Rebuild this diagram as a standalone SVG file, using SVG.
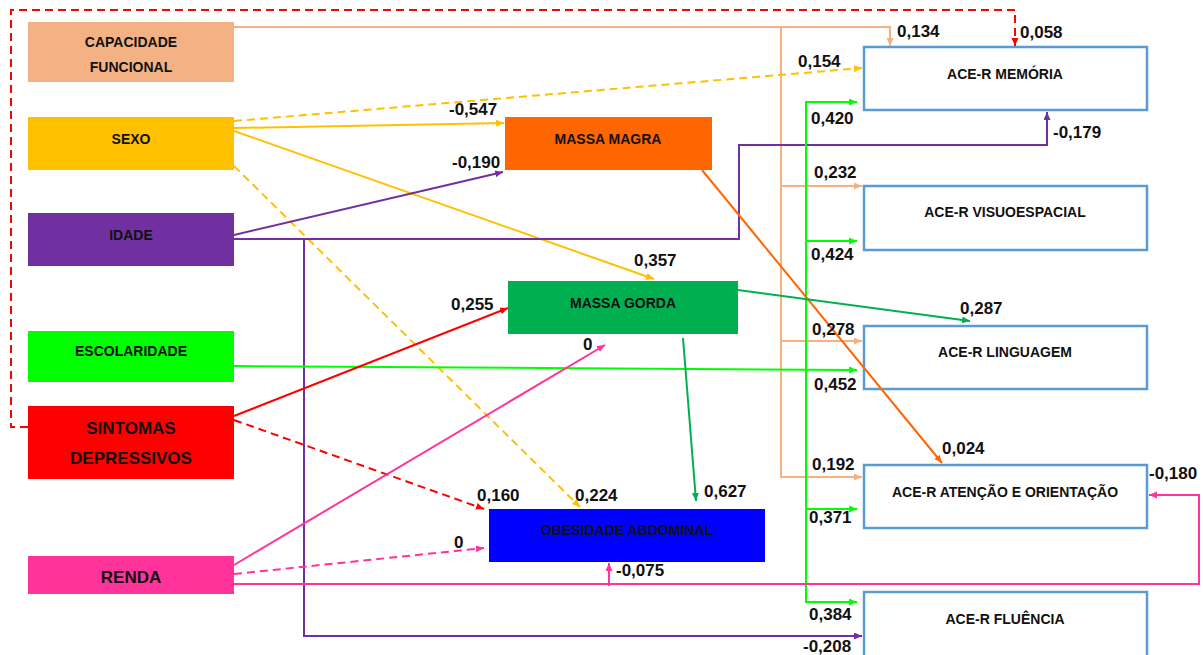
<svg xmlns="http://www.w3.org/2000/svg" width="1203" height="655" viewBox="0 0 1203 655">
<style>
.nt{font-family:"Liberation Sans",Arial,sans-serif;font-weight:bold;font-size:14px;fill:#111;text-anchor:middle}
.big{font-size:17px}
.lb{font-family:"Liberation Sans",Arial,sans-serif;font-weight:bold;font-size:17px;fill:#111}
.ace{fill:#fff;stroke:#5B9BD5;stroke-width:2.5}
.c{fill:none;stroke-width:2}
.d{stroke-dasharray:8 5}
</style>
<defs>
<marker id="mRed" markerUnits="userSpaceOnUse" markerWidth="9" markerHeight="8" refX="8" refY="3.5" orient="auto"><path d="M0,0 L8,3.5 L0,7 z" fill="#FF0000"/></marker>
<marker id="mPeach" markerUnits="userSpaceOnUse" markerWidth="9" markerHeight="8" refX="8" refY="3.5" orient="auto"><path d="M0,0 L8,3.5 L0,7 z" fill="#F4B183"/></marker>
<marker id="mYel" markerUnits="userSpaceOnUse" markerWidth="9" markerHeight="8" refX="8" refY="3.5" orient="auto"><path d="M0,0 L8,3.5 L0,7 z" fill="#FFC000"/></marker>
<marker id="mPur" markerUnits="userSpaceOnUse" markerWidth="9" markerHeight="8" refX="8" refY="3.5" orient="auto"><path d="M0,0 L8,3.5 L0,7 z" fill="#7030A0"/></marker>
<marker id="mGrn" markerUnits="userSpaceOnUse" markerWidth="9" markerHeight="8" refX="8" refY="3.5" orient="auto"><path d="M0,0 L8,3.5 L0,7 z" fill="#00FF00"/></marker>
<marker id="mDGrn" markerUnits="userSpaceOnUse" markerWidth="9" markerHeight="8" refX="8" refY="3.5" orient="auto"><path d="M0,0 L8,3.5 L0,7 z" fill="#00B050"/></marker>
<marker id="mPink" markerUnits="userSpaceOnUse" markerWidth="9" markerHeight="8" refX="8" refY="3.5" orient="auto"><path d="M0,0 L8,3.5 L0,7 z" fill="#FF3399"/></marker>
<marker id="mOr" markerUnits="userSpaceOnUse" markerWidth="9" markerHeight="8" refX="8" refY="3.5" orient="auto"><path d="M0,0 L8,3.5 L0,7 z" fill="#FF6600"/></marker>
</defs>
<rect width="1203" height="655" fill="#fff"/>

<g id="capacidade"><rect x="28" y="22" width="206" height="60" fill="#F4B183"/><text class="nt" x="131" y="47">CAPACIDADE</text><text class="nt" x="131" y="72">FUNCIONAL</text></g>
<g id="sexo"><rect x="28" y="117" width="206" height="53" fill="#FFC000"/><text class="nt" x="131" y="144">SEXO</text></g>
<g id="idade"><rect x="28" y="213" width="206" height="53" fill="#7030A0"/><text class="nt" x="131" y="240">IDADE</text></g>
<g id="escolaridade"><rect x="28" y="331" width="206" height="51" fill="#00FF00"/><text class="nt" x="131" y="356">ESCOLARIDADE</text></g>
<g id="sintomas"><rect x="28" y="406" width="206" height="73" fill="#FF0000"/><text class="nt big" x="131" y="434">SINTOMAS</text><text class="nt big" x="131" y="464">DEPRESSIVOS</text></g>
<g id="renda"><rect x="28" y="556" width="206" height="38" fill="#FF3399"/><text class="nt big" x="131" y="583">RENDA</text></g>

<g id="massa-magra"><rect x="505" y="117" width="207" height="53" fill="#FF6600"/><text class="nt" x="608" y="144">MASSA MAGRA</text></g>
<g id="massa-gorda"><rect x="508" y="281" width="230" height="53" fill="#00B050"/><text class="nt" x="623" y="308">MASSA GORDA</text></g>
<g id="obesidade"><rect x="489" y="509" width="276" height="53" fill="#0000FF"/><text class="nt" x="627" y="535">OBESIDADE ABDOMINAL</text></g>

<g id="ace-memoria"><rect class="ace" x="864" y="47" width="283" height="63"/><text class="nt" x="1005" y="79">ACE-R MEMÓRIA</text></g>
<g id="ace-visuoespacial"><rect class="ace" x="864" y="186" width="283" height="64"/><text class="nt" x="1005" y="217">ACE-R VISUOESPACIAL</text></g>
<g id="ace-linguagem"><rect class="ace" x="864" y="326" width="283" height="63"/><text class="nt" x="1005" y="357">ACE-R LINGUAGEM</text></g>
<g id="ace-atencao"><rect class="ace" x="864" y="465" width="283" height="63"/><text class="nt" x="1005" y="497">ACE-R ATENÇÃO E ORIENTAÇÃO</text></g>
<g id="ace-fluencia"><rect class="ace" x="864" y="592" width="283" height="70"/><text class="nt" x="1005" y="624">ACE-R FLUÊNCIA</text></g>

<g id="connectors">
<path class="c d" stroke="#FF0000" d="M28,427 H11 V10 H1015 V46" marker-end="url(#mRed)"/>
<path class="c" stroke="#F4B183" d="M234,27 H890 V46" marker-end="url(#mPeach)"/>
<path class="c" stroke="#F4B183" d="M781,27 V477 H862" marker-end="url(#mPeach)"/>
<path class="c" stroke="#F4B183" d="M781,186 H862" marker-end="url(#mPeach)"/>
<path class="c" stroke="#F4B183" d="M781,341 H862" marker-end="url(#mPeach)"/>
<path class="c d" stroke="#FFC000" d="M234,121 L862,68" marker-end="url(#mYel)"/>
<path class="c" stroke="#FFC000" d="M234,128 L504,123" marker-end="url(#mYel)"/>
<path class="c" stroke="#FFC000" d="M234,131 L654,279" marker-end="url(#mYel)"/>
<path class="c d" stroke="#FFC000" d="M234,166 L580,507" marker-end="url(#mYel)"/>
<path class="c" stroke="#7030A0" d="M234,235 L503,172" marker-end="url(#mPur)"/>
<path class="c" stroke="#7030A0" d="M234,239 H739 V145 H1047 V112" marker-end="url(#mPur)"/>
<path class="c" stroke="#7030A0" d="M234,239 H304 V636 H862" marker-end="url(#mPur)"/>
<path class="c" stroke="#00FF00" d="M234,366 L857,370" marker-end="url(#mGrn)"/>
<path class="c" stroke="#00FF00" d="M806,102 V602"/>
<path class="c" stroke="#00FF00" d="M805,102 H857" marker-end="url(#mGrn)"/>
<path class="c" stroke="#00FF00" d="M806,241 H857" marker-end="url(#mGrn)"/>
<path class="c" stroke="#00FF00" d="M806,509 H857" marker-end="url(#mGrn)"/>
<path class="c" stroke="#00FF00" d="M805,602 H857" marker-end="url(#mGrn)"/>
<path class="c" stroke="#FF0000" d="M234,416 L508,308" marker-end="url(#mRed)"/>
<path class="c d" stroke="#FF0000" d="M234,420 L484,509" marker-end="url(#mRed)"/>
<path class="c" stroke="#FF3399" d="M234,565 L605,345" marker-end="url(#mPink)"/>
<path class="c d" stroke="#FF3399" d="M234,574 L484,548" marker-end="url(#mPink)"/>
<path class="c" stroke="#FF3399" d="M234,584 H1199 V495 H1149" marker-end="url(#mPink)"/>
<path class="c" stroke="#FF3399" d="M609,586 V563" marker-end="url(#mPink)"/>
<path class="c" stroke="#FF6600" d="M702,170 L942,463" marker-end="url(#mOr)"/>
<path class="c" stroke="#00B050" d="M738,290 L970,321" marker-end="url(#mDGrn)"/>
<path class="c" stroke="#00B050" d="M683,338 L696,501" marker-end="url(#mDGrn)"/>
</g>

<g id="labels">
<text class="lb" x="1020" y="38">0,058</text>
<text class="lb" x="897" y="37">0,134</text>
<text class="lb" x="798" y="67">0,154</text>
<text class="lb" x="811" y="124">0,420</text>
<text class="lb" x="1053" y="138">-0,179</text>
<text class="lb" x="814" y="178">0,232</text>
<text class="lb" x="449" y="115">-0,547</text>
<text class="lb" x="452" y="168">-0,190</text>
<text class="lb" x="634" y="266">0,357</text>
<text class="lb" x="451" y="310">0,255</text>
<text class="lb" x="583" y="350">0</text>
<text class="lb" x="811" y="260">0,424</text>
<text class="lb" x="960" y="314">0,287</text>
<text class="lb" x="812" y="335">0,278</text>
<text class="lb" x="814" y="390">0,452</text>
<text class="lb" x="477" y="501">0,160</text>
<text class="lb" x="575" y="501">0,224</text>
<text class="lb" x="704" y="497">0,627</text>
<text class="lb" x="454" y="548">0</text>
<text class="lb" x="616" y="576">-0,075</text>
<text class="lb" x="942" y="454">0,024</text>
<text class="lb" x="812" y="470">0,192</text>
<text class="lb" x="1149" y="479">-0,180</text>
<text class="lb" x="809" y="523">0,371</text>
<text class="lb" x="809" y="620">0,384</text>
<text class="lb" x="803" y="652">-0,208</text>
</g>
</svg>
